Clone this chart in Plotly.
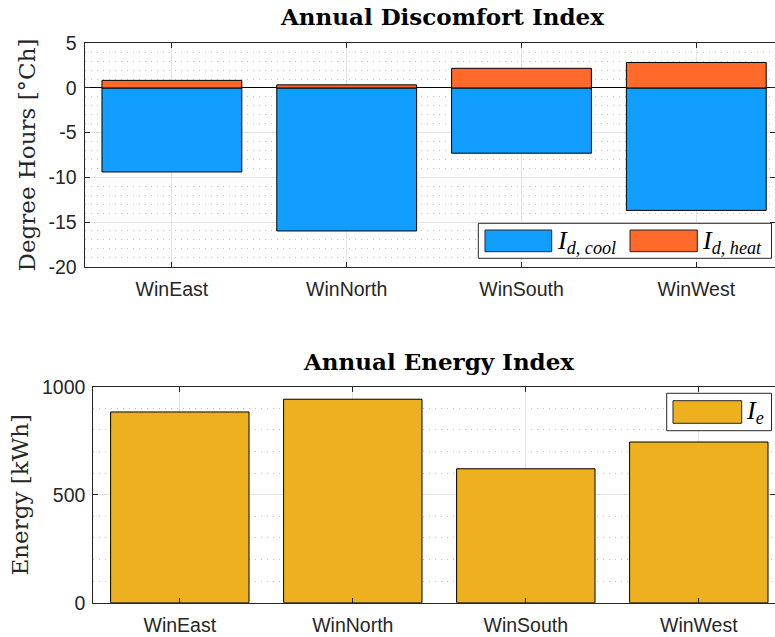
import plotly.graph_objects as go
from plotly.subplots import make_subplots

# Window orientations compared in both panels
orientations = ["WinEast", "WinNorth", "WinSouth", "WinWest"]

# Annual discomfort index [degree hours, °Ch]
discomfort_cool = [-9.4, -16.0, -7.3, -13.7]
discomfort_heat = [0.85, 0.35, 2.2, 2.85]

# Annual energy index [kWh]
energy_index = [883, 942, 620, 744]

# Tick labels
discomfort_ticks = [5, 0, -5, -10, -15, -20]
energy_ticks = [0, 500, 1000]

BLUE = "#129EFF"
ORANGE = "#FF6929"
GOLD = "#EDB120"
AXIS = "#262626"
SANS = "Liberation Sans, Arial, sans-serif"
SERIF = "DejaVu Serif, serif"

W, H = 775, 637
px = lambda x: x / W
py = lambda y: 1 - y / H

fig = make_subplots(rows=2, cols=1)

xpos = list(range(len(orientations)))

fig.add_trace(go.Bar(x=xpos, y=discomfort_cool, marker=dict(color=BLUE, line=dict(color="black", width=1)),
                     width=0.8, showlegend=False), row=1, col=1)
fig.add_trace(go.Bar(x=xpos, y=discomfort_heat, marker=dict(color=ORANGE, line=dict(color="black", width=1)),
                     width=0.8, showlegend=False), row=1, col=1)
fig.add_trace(go.Bar(x=xpos, y=energy_index, marker=dict(color=GOLD, line=dict(color="black", width=1)),
                     width=0.8, showlegend=False), row=2, col=1)

common_x = dict(
    tickmode="array", tickvals=xpos, ticktext=orientations,
    showgrid=True, gridcolor="#e3e3e3", gridwidth=1,
    showline=True, linecolor=AXIS, linewidth=1, mirror="ticks",
    ticks="inside", ticklen=5, tickcolor=AXIS, ticklabelstandoff=5,
    tickfont=dict(family=SANS, size=19.5, color=AXIS),
    zeroline=False, automargin=False,
)
common_y = dict(
    showgrid=True, gridcolor="#e3e3e3", gridwidth=1,
    showline=True, linecolor=AXIS, linewidth=1, mirror="ticks",
    ticks="inside", ticklen=5, tickcolor=AXIS, ticklabelstandoff=3,
    tickfont=dict(family=SANS, size=19.5, color=AXIS),
    automargin=False,
)
minor_grid = dict(showgrid=True, griddash="1px,5px", gridcolor="#c4c4c4", gridwidth=1, ticks="")

fig.update_xaxes(**common_x, domain=[px(84.5), 1], range=[-0.5, -0.5 + (W - 84.5) / 174.8], row=1, col=1)
fig.update_xaxes(**common_x, domain=[px(93.3), 1], range=[-0.5, -0.5 + (W - 93.3) / 173.0], row=2, col=1)

fig.update_yaxes(**common_y, domain=[py(266.7), py(43.3)], range=[-20, 5],
                 tickvals=discomfort_ticks, ticktext=[str(t) for t in discomfort_ticks],
                 zeroline=True, zerolinecolor="black", zerolinewidth=1,
                 minor=dict(dtick=1, **minor_grid),
                 title=dict(text="Degree Hours [°Ch]", font=dict(family=SERIF, size=23, color=AXIS), standoff=6),
                 row=1, col=1)
fig.update_yaxes(**common_y, domain=[py(602.7), py(386.7)], range=[0, 1000],
                 tickvals=energy_ticks, ticktext=[str(t) for t in energy_ticks],
                 zeroline=False,
                 minor=dict(dtick=100, **minor_grid),
                 title=dict(text="Energy [kWh]", font=dict(family=SERIF, size=23, color=AXIS), standoff=6),
                 row=2, col=1)

fig.update_layout(barmode="relative", bargap=0.2)

# Panel titles
annotations = [
    dict(text="<b>Annual Discomfort Index</b>", x=px(442), y=py(17), xref="paper", yref="paper",
         xanchor="center", yanchor="middle",
         showarrow=False, font=dict(family=SERIF, size=23, color="black")),
    dict(text="<b>Annual Energy Index</b>", x=px(438), y=py(362), xref="paper", yref="paper",
         xanchor="center", yanchor="middle",
         showarrow=False, font=dict(family=SERIF, size=23, color="black")),
]

# Legend boxes with wide swatches
shapes = []
def legend_box(x0, y0, x1, y1):
    shapes.append(dict(type="rect", xref="paper", yref="paper", x0=px(x0), x1=px(x1), y0=py(y1), y1=py(y0),
                       line=dict(color=AXIS, width=1), fillcolor="white", layer="above"))

def swatch(x0, y0, x1, y1, color):
    shapes.append(dict(type="rect", xref="paper", yref="paper", x0=px(x0), x1=px(x1), y0=py(y1), y1=py(y0),
                       line=dict(color=AXIS, width=1), fillcolor=color, layer="above"))

def label(text, x, y):
    annotations.append(dict(text=text, x=px(x), y=py(y), xref="paper", yref="paper", xanchor="left",
                            yanchor="middle", showarrow=False,
                            font=dict(family="Liberation Serif, serif", size=26, color="black")))

legend_box(478.3, 223.3, 771.5, 258.3)
swatch(485, 230, 551.7, 251.7, BLUE)
label("<i>I<sub>d, cool</sub></i>", 555, 242)
swatch(630, 230, 697.3, 251.7, ORANGE)
label("<i>I<sub>d, heat</sub></i>", 700, 242)

legend_box(666.7, 393.3, 771.5, 430.7)
swatch(673, 400.7, 741.7, 423.3, GOLD)
label("<i>I<sub>e</sub></i>", 744, 412)

fig.update_layout(
    width=W, height=H,
    margin=dict(l=0, r=0, t=0, b=0),
    plot_bgcolor="white", paper_bgcolor="white",
    annotations=annotations, shapes=shapes,
    showlegend=False,
)

fig.write_html("out.html")
